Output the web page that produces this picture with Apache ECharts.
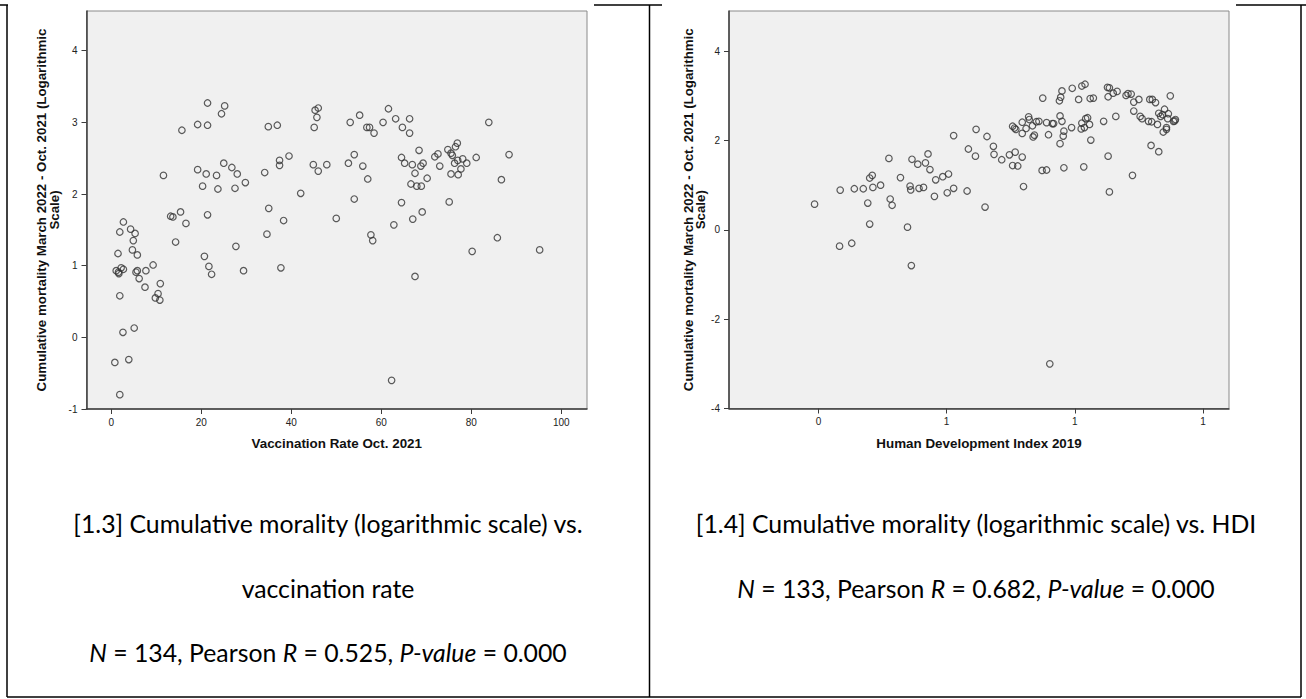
<!DOCTYPE html>
<html>
<head>
<meta charset="utf-8">
<script src="https://cdn.jsdelivr.net/npm/echarts@6/dist/echarts.min.js"></script>
<style>
  html, body { margin: 0; padding: 0; background: #fff; }
  #chart { width: 1306px; height: 699px; }
</style>
</head>
<body>
<div id="chart"></div>
<script>
// 左图：疫苗接种率 vs 累计死亡率(对数)
const vaccRate = [
  0.8, 1.9, 3.9, 2.6, 5.1, 1.9, 1.1, 1.6, 1.7, 2.2,
  2.7, 1.5, 1.9, 2.7, 4.3, 5.3, 4.9, 4.7, 5.8, 5.5,
  5.8, 6.2, 7.7, 7.5, 9.3, 10.4, 9.8, 10.8, 10.9, 11.6,
  13.2, 13.7, 14.3, 15.4, 15.7, 16.6, 19.2, 19.2, 20.3, 20.7,
  21.1, 21.4, 21.4, 21.4, 21.7, 22.3, 23.4, 23.7, 24.5, 25.2,
  25.0, 26.8, 27.5, 27.7, 28.0, 29.4, 29.8, 34.1, 34.6, 34.9,
  35.0, 36.9, 37.4, 37.4, 37.7, 38.3, 39.5, 42.1, 45.1, 44.9,
  45.3, 46.0, 45.7, 46.0, 47.9, 50.0, 52.7, 53.1, 54.0, 54.0,
  55.2, 55.9, 56.8, 57.4, 57.0, 57.7, 58.1, 58.4, 60.4, 61.6,
  62.3, 62.8, 63.2, 64.5, 64.5, 64.7, 65.2, 66.3, 66.3, 66.6,
  66.9, 67.0, 67.5, 67.5, 67.9, 68.4, 68.8, 68.9, 69.1, 69.3,
  70.2, 71.9, 72.6, 73.0, 74.8, 75.1, 75.5, 75.5, 75.8, 76.3,
  76.5, 76.9, 77.0, 77.1, 77.7, 78.1, 79.0, 80.2, 81.1, 83.9,
  85.8, 86.7, 88.4, 95.2
];
const mortalityVacc = [
  -0.35, -0.80, -0.31, 0.07, 0.13, 0.58, 0.93, 0.91, 0.89, 0.97,
  0.95, 1.17, 1.47, 1.61, 1.51, 1.45, 1.35, 1.22, 1.15, 0.91,
  0.93, 0.82, 0.93, 0.70, 1.01, 0.61, 0.55, 0.52, 0.75, 2.26,
  1.69, 1.68, 1.33, 1.75, 2.89, 1.59, 2.97, 2.34, 2.11, 1.13,
  2.28, 3.27, 2.96, 1.71, 0.99, 0.88, 2.26, 2.07, 3.12, 3.23,
  2.43, 2.37, 2.08, 1.27, 2.28, 0.93, 2.16, 2.30, 1.44, 2.94,
  1.80, 2.96, 2.47, 2.40, 0.97, 1.63, 2.53, 2.01, 2.93, 2.41,
  3.17, 3.20, 3.07, 2.32, 2.41, 1.66, 2.43, 3.00, 2.55, 1.93,
  3.10, 2.39, 2.93, 2.93, 2.21, 1.43, 1.35, 2.85, 3.00, 3.19,
  -0.60, 1.57, 3.05, 2.51, 1.88, 2.93, 2.43, 3.05, 2.85, 2.14,
  2.41, 1.65, 2.29, 0.85, 2.11, 2.61, 2.39, 2.11, 1.75, 2.43,
  2.22, 2.52, 2.56, 2.39, 2.62, 1.89, 2.28, 2.57, 2.54, 2.43,
  2.66, 2.71, 2.47, 2.27, 2.35, 2.49, 2.43, 1.20, 2.51, 3.00,
  1.39, 2.20, 2.55, 1.22
];

// 右图：人类发展指数 vs 累计死亡率(对数)
const hdi = [
  0.394, 0.434, 0.433, 0.452, 0.456, 0.470, 0.477, 0.480, 0.480, 0.484,
  0.485, 0.497, 0.510, 0.512, 0.515, 0.528, 0.539, 0.543, 0.544, 0.546,
  0.555, 0.557, 0.564, 0.567, 0.571, 0.574, 0.581, 0.583, 0.594, 0.603,
  0.601, 0.611, 0.611, 0.634, 0.645, 0.646, 0.632, 0.660, 0.663, 0.545,
  0.761,
  0.673, 0.674, 0.686, 0.698, 0.703, 0.707, 0.711, 0.718, 0.720, 0.703,
  0.706, 0.708, 0.718, 0.718, 0.724, 0.728, 0.729, 0.734, 0.735, 0.737,
  0.740, 0.744, 0.750, 0.749, 0.756, 0.756, 0.759, 0.765, 0.767, 0.776,
  0.778, 0.780, 0.777, 0.777, 0.780, 0.783, 0.782, 0.783, 0.795, 0.796,
  0.806, 0.810, 0.811, 0.811, 0.816, 0.814, 0.815, 0.817, 0.820, 0.823,
  0.825, 0.824, 0.829, 0.845, 0.852, 0.851, 0.854, 0.852, 0.854, 0.860,
  0.864, 0.866, 0.880, 0.883, 0.888, 0.890, 0.892, 0.892, 0.900, 0.902,
  0.905, 0.915, 0.919, 0.917, 0.921, 0.920, 0.926, 0.929, 0.931, 0.931,
  0.934, 0.937, 0.940, 0.938, 0.943, 0.946, 0.945, 0.949, 0.954, 0.957,
  0.943, 0.956
];
const mortalityHdi = [
  0.575, 0.89, -0.365, -0.30, 0.92, 0.92, 0.60, 0.13, 1.16, 1.22,
  0.95, 1.00, 1.60, 0.69, 0.55, 1.17, 0.06, 0.98, 0.895, 1.58,
  1.47, 0.93, 0.95, 1.50, 1.70, 1.35, 0.75, 1.12, 1.19, 1.25,
  0.83, 0.93, 2.11, 1.81, 1.65, 2.25, 0.87, 0.51, 2.09, -0.80,
  -3.00,
  1.87, 1.69, 1.57, 1.68, 1.44, 1.74, 1.43, 1.63, 0.97, 2.32,
  2.28, 2.25, 2.16, 2.41, 2.27, 2.53, 2.47, 2.33, 2.08, 2.12,
  2.42, 2.43, 2.95, 1.33, 1.34, 2.40, 2.13, 2.38, 2.38, 2.89,
  2.97, 3.11, 1.93, 2.55, 2.43, 2.21, 2.10, 1.39, 2.29, 3.17,
  2.92, 2.26, 2.39, 3.22, 3.26, 1.41, 2.29, 2.49, 2.51, 2.36,
  2.01, 2.94, 2.95, 2.43, 1.65, 3.19, 3.18, 2.98, 0.85, 3.06,
  2.54, 3.10, 3.01, 3.05, 3.04, 1.22, 2.66, 2.86, 2.92, 2.54,
  2.49, 2.43, 1.89, 2.92, 2.92, 2.42, 2.85, 2.36, 1.75, 2.61,
  2.54, 2.58, 2.70, 2.19, 2.25, 2.60, 2.49, 3.00, 2.43, 2.47,
  2.29, 2.44
];

// 刻度
const vaccTicks = [0, 20, 40, 60, 80, 100];
const vaccMortTicks = [-1, 0, 1, 2, 3, 4];
const hdiTicks = [0.4, 0.6, 0.8, 1.0];
const hdiMortTicks = [-4, -2, 0, 2, 4];

const yTitle = 'Cumulative mortality March 2022 - Oct. 2021 (Logarithmic\nScale)';
const axisColor = '#3c3c3c';
const axisFont = 'Liberation Sans';
const capFont = 'Lato';
const capSize = 24.8;

function xAxis(gridIndex, min, max, ticks, name, fmt) {
  return {
    gridIndex, type: 'value', min, max,
    name, nameLocation: 'middle', nameGap: 28,
    nameTextStyle: { fontFamily: axisFont, fontWeight: 'bold', fontSize: 13.4, color: '#111' },
    axisLine: { show: true, onZero: false, lineStyle: { color: axisColor, width: 1.5 } },
    axisTick: { show: true, length: 5, customValues: ticks, lineStyle: { color: axisColor } },
    axisLabel: { customValues: ticks, formatter: fmt, margin: 8, fontFamily: axisFont, fontSize: 10, color: '#222' },
    splitLine: { show: false }
  };
}

function yAxis(gridIndex, min, max, ticks, nameGap) {
  return {
    gridIndex, type: 'value', min, max,
    name: yTitle, nameLocation: 'middle', nameRotate: 90, nameGap,
    nameTextStyle: { fontFamily: axisFont, fontWeight: 'bold', fontSize: 13.3, lineHeight: 12.5, color: '#111' },
    axisLine: { show: true, onZero: false, lineStyle: { color: axisColor, width: 1.5 } },
    axisTick: { show: true, length: 5, customValues: ticks, lineStyle: { color: axisColor } },
    axisLabel: { customValues: ticks, margin: 9, fontFamily: axisFont, fontSize: 10, color: '#222' },
    splitLine: { show: false }
  };
}

function points(xs, ys) {
  return xs.map((x, i) => [x, ys[i]]);
}

function line(x1, y1, x2, y2) {
  return { type: 'line', shape: { x1, y1, x2, y2 }, style: { stroke: '#000', lineWidth: 1.5 }, z: 100 };
}

function caption(x, y, text) {
  return {
    type: 'text', x, y, z: 100,
    style: {
      text,
      align: 'center', verticalAlign: 'middle',
      textAlign: 'center', textVerticalAlign: 'middle',
      fill: '#000',
      rich: {
        n: { fontFamily: capFont, fontSize: capSize, fill: '#000' },
        i: { fontFamily: capFont, fontSize: capSize, fontStyle: 'italic', fill: '#000' }
      }
    }
  };
}

const scatterStyle = {
  type: 'scatter',
  symbol: 'circle',
  symbolSize: 6.5,
  itemStyle: { color: 'rgba(0,0,0,0)', borderColor: '#333', borderWidth: 1.2 },
  emphasis: { disabled: true },
  silent: true
};

const chart = echarts.init(document.getElementById('chart'), null, { renderer: 'svg' });
chart.setOption({
  animation: false,
  backgroundColor: '#fff',
  grid: [
    { left: 86.5, top: 11, width: 500.5, height: 398, show: true, backgroundColor: '#f0f0f0', borderColor: '#8a8a8a', borderWidth: 1 },
    { left: 729, top: 11, width: 500, height: 397.5, show: true, backgroundColor: '#f0f0f0', borderColor: '#8a8a8a', borderWidth: 1 }
  ],
  xAxis: [
    xAxis(0, -5.5, 105.72, vaccTicks, 'Vaccination Rate Oct. 2021', v => String(v)),
    xAxis(1, 0.2605, 1.0406, hdiTicks, 'Human Development Index 2019', v => String(Math.round(v)))
  ],
  yAxis: [
    yAxis(0, -1, 4.554, vaccMortTicks, 26.25),
    yAxis(1, -4, 4.9, hdiMortTicks, 20.75)
  ],
  series: [
    Object.assign({}, scatterStyle, { xAxisIndex: 0, yAxisIndex: 0, data: points(vaccRate, mortalityVacc) }),
    Object.assign({}, scatterStyle, { xAxisIndex: 1, yAxisIndex: 1, data: points(hdi, mortalityHdi) })
  ],
  graphic: [
    // 表格边框
    line(0, 5, 8, 5),
    line(594, 5, 662, 5),
    line(1236, 5, 1306, 5),
    line(7, 5, 7, 697),
    line(649.5, 5, 649.5, 697),
    line(1301, 5, 1301, 697),
    line(7, 697, 1301, 697),
    // 图注
    caption(328, 523, '{n|[1.3] Cumulative morality (logarithmic scale) vs.}'),
    caption(328, 588, '{n|vaccination rate}'),
    caption(328, 652, '{i|N}{n| = 134, Pearson }{i|R}{n| = 0.525, }{i|P-value}{n| = 0.000}'),
    caption(976, 523, '{n|[1.4] Cumulative morality (logarithmic scale) vs. HDI}'),
    caption(976, 588, '{i|N}{n| = 133, Pearson }{i|R}{n| = 0.682, }{i|P-value}{n| = 0.000}')
  ]
});
</script>
</body>
</html>
